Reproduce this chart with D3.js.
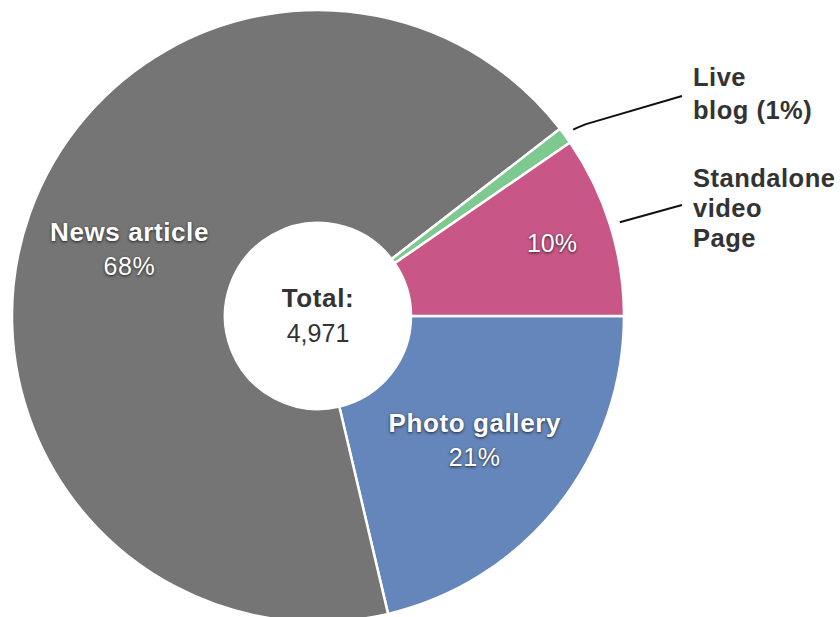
<!DOCTYPE html>
<html>
<head>
<meta charset="utf-8">
<script src="https://cdn.jsdelivr.net/npm/d3@7"></script>
<style>
  html, body { margin: 0; padding: 0; background: #fff; }
  svg { display: block; font-family: "Liberation Sans", Arial, Helvetica, sans-serif; }
  .inlabel { fill: #fff; text-shadow: 0 1px 3px rgba(0,0,0,0.75); }
  .outlabel { fill: #333; font-weight: bold; }
  .bold { font-weight: bold; letter-spacing: 0.6px; }
</style>
</head>
<body>
<svg id="chart" width="840" height="617"></svg>
<script>
// Content types, listed clockwise starting from 3 o'clock
const categories = ["Photo gallery", "News article", "Live blog", "Standalone video Page"];
const counts     = [1060, 3390, 44, 477];
const colors     = ["#6586ba", "#757575", "#7dc98f", "#c85788"];

const W = 840, H = 617;
const cx = 318, cy = 316;
const outerR = 306, innerR = 93;

const svg = d3.select("#chart");
const g = svg.append("g").attr("transform", `translate(${cx},${cy})`);

const total = d3.sum(counts);
const data = categories.map((c, i) => ({ name: c, value: counts[i], color: colors[i] }));

const pie = d3.pie()
  .value(d => d.value)
  .sort(null)
  .startAngle(Math.PI / 2)
  .endAngle(Math.PI / 2 + 2 * Math.PI);

const arcs = pie(data);
const arc = d3.arc().innerRadius(innerR).outerRadius(outerR);

g.selectAll("path.slice")
  .data(arcs)
  .join("path")
  .attr("class", "slice")
  .attr("d", arc)
  .attr("fill", d => d.data.color)
  .attr("stroke", "#fff")
  .attr("stroke-width", 2.5)
  .attr("stroke-linejoin", "round");

const pct = v => Math.round(v / total * 100) + "%";
const mid = d => (d.startAngle + d.endAngle) / 2;
// point at radius r along the slice's middle angle (d3 angles: 0 at 12 o'clock, clockwise)
const polar = (a, r) => [Math.sin(a) * r, -Math.cos(a) * r];

// Labels drawn inside the large slices
const inside = [
  { idx: 1, r: 200, title: true },
  { idx: 0, r: 200, title: true },
  { idx: 3, r: 245, title: false }
];
inside.forEach(s => {
  const d = arcs[s.idx];
  const [x, y] = polar(mid(d), s.r);
  const t = g.append("text")
    .attr("class", "inlabel")
    .attr("text-anchor", "middle")
    .attr("font-size", 25);
  if (s.title) {
    t.append("tspan").attr("x", x).attr("y", y - 8)
      .attr("class", "bold").attr("font-size", 26).text(d.data.name);
    t.append("tspan").attr("x", x).attr("y", y + 26)
      .attr("letter-spacing", "0.6px").text(pct(d.data.value));
  } else {
    t.append("tspan").attr("x", x).attr("y", y + 9).text(pct(d.data.value));
  }
});

// Callout labels for the narrow slices
const callouts = [
  { idx: 2, lines: ["Live", "blog (" + pct(counts[2]) + ")"], tx: 375, ty: -230, lh: 33, lineTo: [364, -220] },
  { idx: 3, lines: ["Standalone", "video", "Page"], tx: 375, ty: -129, lh: 30, lineTo: [364, -111] }
];
callouts.forEach(c => {
  const d = arcs[c.idx];
  const a = mid(d);
  const p0 = polar(a, outerR + 10);
  const p1 = polar(a, outerR + 16);
  const path = d3.path();
  path.moveTo(p0[0], p0[1]);
  if (c.idx === 2) path.quadraticCurveTo(p1[0], p1[1] + 1, p1[0] + 8, p1[1] - 2);
  path.lineTo(c.lineTo[0], c.lineTo[1]);
  g.append("path")
    .attr("d", path.toString())
    .attr("fill", "none")
    .attr("stroke", "#111")
    .attr("stroke-width", 2);
  const t = g.append("text").attr("class", "outlabel").attr("font-size", 25.5)
    .attr("letter-spacing", "0.5px");
  c.lines.forEach((ln, i) => {
    t.append("tspan").attr("x", c.tx).attr("y", c.ty + i * c.lh).text(ln);
  });
});

// Centre total
g.append("text")
  .attr("class", "bold")
  .attr("text-anchor", "middle")
  .attr("y", -9)
  .attr("font-size", 26)
  .attr("fill", "#333")
  .text("Total:");
g.append("text")
  .attr("text-anchor", "middle")
  .attr("y", 26)
  .attr("font-size", 25)
  .attr("fill", "#333")
  .text(d3.format(",")(total));
</script>
</body>
</html>
